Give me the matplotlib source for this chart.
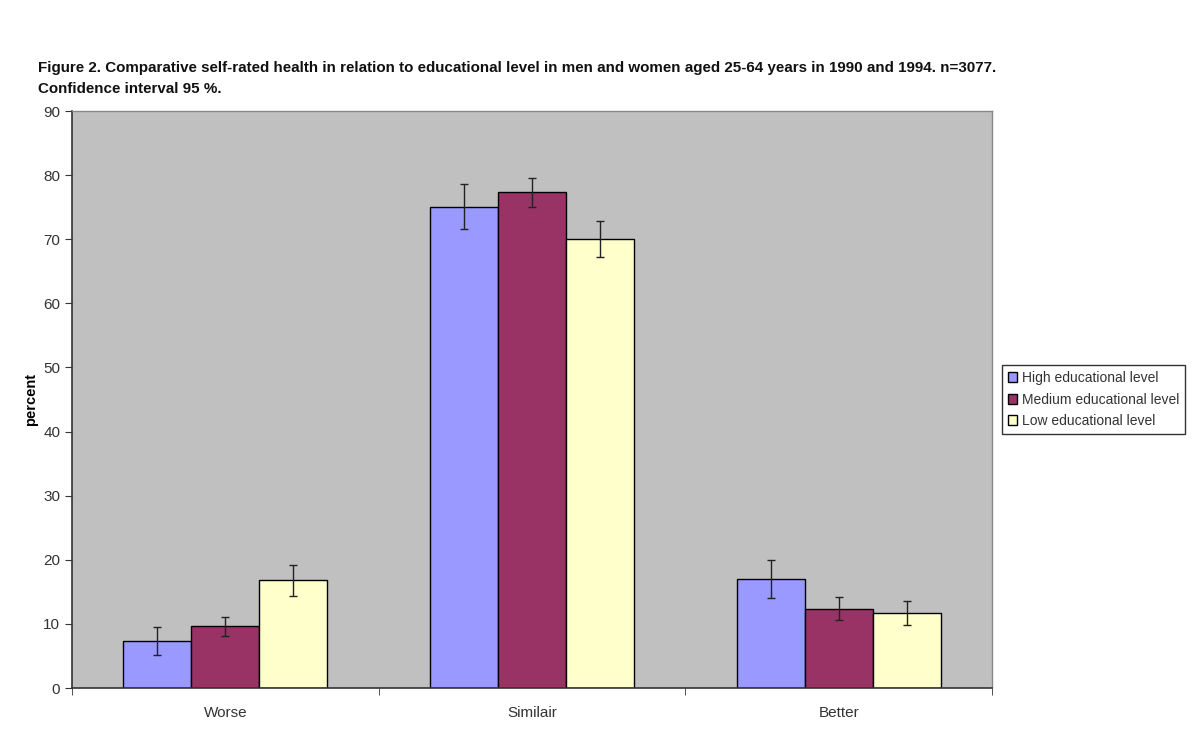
import matplotlib
matplotlib.use("Agg")
import matplotlib.pyplot as plt
import numpy as np

categories = ["Worse", "Similair", "Better"]
series = ["High educational level", "Medium educational level", "Low educational level"]
high = [7.3, 75.1, 17.0]
medium = [9.6, 77.3, 12.4]
low = [16.8, 70.0, 11.7]
high_err = [2.2, 3.5, 3.0]
medium_err = [1.5, 2.2, 1.8]
low_err = [2.4, 2.8, 1.9]
colors = ["#9999FF", "#993366", "#FFFFCC"]

plt.rcParams['font.family'] = ['Liberation Sans', 'DejaVu Sans']

fig = plt.figure(figsize=(12, 7.43), dpi=100)
ax = fig.add_axes([0.06, 0.074, 0.7667, 0.7766])
ax.set_facecolor("#C0C0C0")

x = np.arange(len(categories))
w = 0.222
vals = [high, medium, low]
errs = [high_err, medium_err, low_err]
for i, (v, e, c, s) in enumerate(zip(vals, errs, colors, series)):
    ax.bar(x + (i - 1) * w, v, w, color=c, edgecolor="black", linewidth=1.0, label=s, zorder=2)
    ax.errorbar(x + (i - 1) * w, v, yerr=e, fmt="none", ecolor="#222222", elinewidth=1.0,
                capsize=3, capthick=1.0, zorder=3)

ax.set_xlim(-0.5, 2.5)
ax.set_ylim(0, 90)
ax.set_yticks(range(0, 91, 10))
ax.set_xticks(x)
ax.set_xticklabels(categories)
ax.set_xticks([-0.5, 0.5, 1.5, 2.5], minor=True)
ax.tick_params(axis='x', which='major', length=0, pad=13, labelsize=11, labelcolor="#333333")
ax.tick_params(axis='x', which='minor', length=5, direction='out', color="#333333")
ax.tick_params(axis='y', length=5, direction='out', labelsize=11, labelcolor="#333333", color="#333333")
for sp in ["left", "bottom"]:
    ax.spines[sp].set_color("#333333")
    ax.spines[sp].set_linewidth(1.2)
for sp in ["top", "right"]:
    ax.spines[sp].set_color("#888888")
    ax.spines[sp].set_linewidth(1.0)

ax.set_ylabel("percent", fontsize=10.5, fontweight="bold", labelpad=4)

leg = ax.legend(loc="center left", bbox_to_anchor=(1.011, 0.5), frameon=True, fancybox=False,
                fontsize=10, handlelength=0.7, handleheight=0.7, handletextpad=0.3,
                borderpad=0.4, labelspacing=0.55, borderaxespad=0)
leg.get_frame().set_edgecolor("black")
leg.get_frame().set_linewidth(1.0)
for t in leg.get_texts():
    t.set_color("#333333")

fig.text(0.032, 0.908, "Figure 2. Comparative self-rated health in relation to educational level in men and women aged 25-64 years in 1990 and 1994. n=3077.",
         fontsize=10.9, fontweight="bold", color="#111111", va="center")
fig.text(0.032, 0.88, "Confidence interval 95 %.", fontsize=10.9, fontweight="bold", color="#111111", va="center")

fig.savefig("out.png", dpi=100)
